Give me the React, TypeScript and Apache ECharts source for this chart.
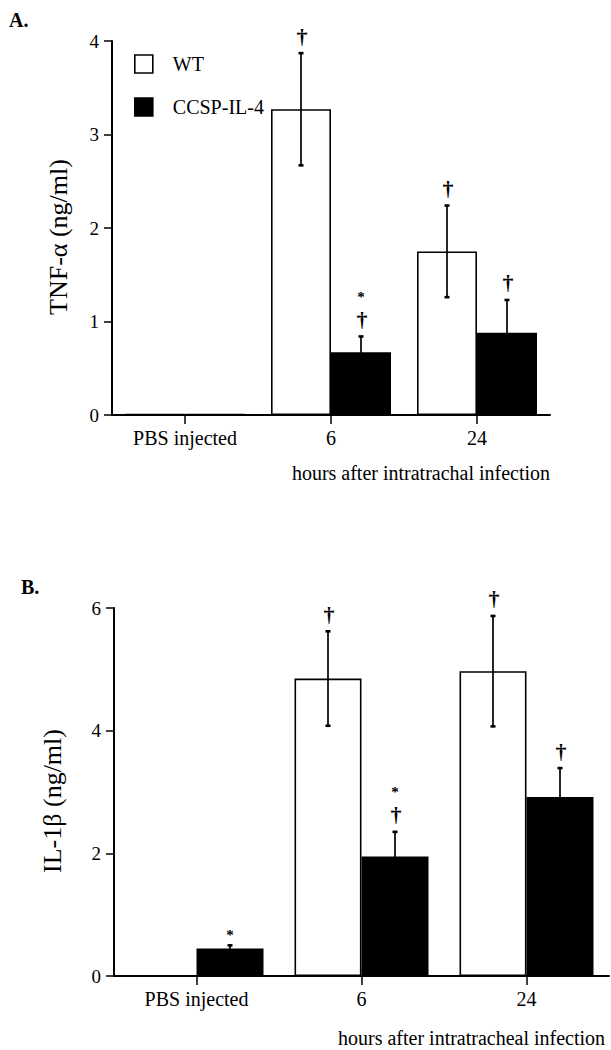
import React, { useEffect, useRef } from "react";
import * as echarts from "echarts";

const categories = ["PBS injected", "6", "24"];

// Panel A: TNF-α (ng/ml)
const tnfWT = [0.01, 3.27, 1.75];
const tnfWTErr = [0, 0.6, 0.49];
const tnfCCSP = [0.01, 0.67, 0.88];
const tnfCCSPErr = [0, 0.17, 0.35];
const tnfWTMarks = ["", "†", "†"];
const tnfCCSPMarks = ["", "*†", "†"];

// Panel B: IL-1β (ng/ml)
const il1WT = [0.01, 4.85, 4.97];
const il1WTErr = [0, 0.77, 0.9];
const il1CCSP = [0.45, 1.95, 2.92];
const il1CCSPErr = [0.05, 0.4, 0.47];
const il1WTMarks = ["", "†", "†"];
const il1CCSPMarks = ["*", "*†", "†"];

const seriesNames = ["WT", "CCSP-IL-4"];

const FONT = '"Liberation Serif", "Times New Roman", serif';

function errorSeries(axisIndex: number, values: number[], errs: number[], marks: string[], offset: number) {
  return {
    type: "custom",
    xAxisIndex: axisIndex,
    yAxisIndex: axisIndex,
    silent: true,
    z: 10,
    data: values.map((v, i) => [i, v, v - errs[i], v + errs[i]]),
    renderItem: (params: any, api: any) => {
      const i = params.dataIndex;
      const cx = api.coord([api.value(0), 0])[0] + offset;
      const yHigh = api.coord([api.value(0), api.value(3)])[1];
      const yLow = api.coord([api.value(0), api.value(2)])[1];
      const children: any[] = [];
      if (errs[i] > 0) {
        const st = { stroke: "#000", lineWidth: 1.7 };
        const cap = { stroke: "#000", lineWidth: 2.6 };
        children.push({ type: "line", shape: { x1: cx, y1: yLow, x2: cx, y2: yHigh }, style: st });
        children.push({ type: "line", shape: { x1: cx - 2.5, y1: yHigh, x2: cx + 2.5, y2: yHigh }, style: cap });
        children.push({ type: "line", shape: { x1: cx - 2.5, y1: yLow, x2: cx + 2.5, y2: yLow }, style: cap });
      }
      const mark = marks[i];
      let top = yHigh;
      if (mark.includes("†")) {
        children.push({
          type: "text",
          x: cx + 1,
          y: top - 6,
          style: { text: "†", font: `bold 22px ${FONT}`, fill: "#000", align: "center", verticalAlign: "bottom" },
        });
        top = top - 6 - 23;
      }
      if (mark.includes("*")) {
        children.push({
          type: "text",
          x: cx,
          y: top - 3,
          style: { text: "*", font: `bold 15px ${FONT}`, fill: "#000", align: "center", verticalAlign: "bottom" },
        });
      }
      return { type: "group", children };
    },
  };
}

export default function App() {
  const ref = useRef<HTMLDivElement>(null);
  useEffect(() => {
    document.body.style.margin = "0";
    if (!ref.current) return;
    const chart = echarts.init(ref.current, null, { renderer: "svg" });
    const barWA = 60;
    const barWB = 67;
    const axisCommonX = (gridIndex: number) => ({
      type: "category",
      gridIndex,
      data: categories,
      axisLine: { show: true, lineStyle: { color: "#000", width: 2 } },
      axisTick: { show: true, alignWithLabel: true, length: 9, lineStyle: { color: "#000", width: 1.5 } },
      axisLabel: { color: "#000", fontSize: 20, fontFamily: FONT, margin: 13 },
      splitLine: { show: false },
    });
    const axisCommonY = (gridIndex: number, max: number, interval: number) => ({
      type: "value",
      gridIndex,
      min: 0,
      max,
      interval,
      axisLine: { show: true, lineStyle: { color: "#000", width: 2 } },
      axisTick: { show: true, length: 8, lineStyle: { color: "#000", width: 1.5 } },
      axisLabel: { color: "#000", fontSize: 19, fontFamily: FONT, margin: 13 },
      splitLine: { show: false },
    });
    const wtStyle = { color: "#fff", borderColor: "#000", borderWidth: 1.6 };
    const ccStyle = { color: "#000", borderColor: "#000", borderWidth: 1.6 };
    chart.setOption({
      animation: false,
      backgroundColor: "#fff",
      textStyle: { fontFamily: FONT },
      legend: {
        data: seriesNames,
        orient: "vertical",
        left: 134,
        top: 54,
        padding: 0,
        itemWidth: 18,
        itemHeight: 18,
        itemGap: 23,
        icon: "rect",
        itemStyle: { borderColor: "#000", borderWidth: 1.6 },
        textStyle: { color: "#000", fontSize: 20, fontFamily: FONT, padding: [0, 0, 0, 15] },
        selectedMode: false,
      },
      grid: [
        { left: 112, top: 41, width: 438, height: 374 },
        { left: 114, top: 608, width: 495, height: 368 },
      ],
      xAxis: [axisCommonX(0), axisCommonX(1)],
      yAxis: [axisCommonY(0, 4, 1), axisCommonY(1, 6, 2)],
      graphic: [
        { type: "text", left: 9, top: 10, style: { text: "A.", font: `bold 20px ${FONT}`, fill: "#000" } },
        { type: "text", left: 21, top: 577, style: { text: "B.", font: `bold 20px ${FONT}`, fill: "#000" } },
        {
          type: "text", x: 58, y: 237, rotation: Math.PI / 2,
          style: { text: "TNF-α (ng/ml)", font: `26px ${FONT}`, fill: "#000", align: "center", verticalAlign: "middle" },
        },
        {
          type: "text", x: 52, y: 801, rotation: Math.PI / 2,
          style: { text: "IL-1β (ng/ml)", font: `26px ${FONT}`, fill: "#000", align: "center", verticalAlign: "middle" },
        },
        {
          type: "text", x: 421, y: 473,
          style: { text: "hours after intratrachal infection", font: `20px ${FONT}`, fill: "#000", align: "center", verticalAlign: "middle" },
        },
        {
          type: "text", x: 338, y: 1038,
          style: { text: "hours after intratracheal infection", font: `20px ${FONT}`, fill: "#000", align: "left", verticalAlign: "middle" },
        },
      ],
      series: [
        { name: "WT", type: "bar", xAxisIndex: 0, yAxisIndex: 0, data: tnfWT, barWidth: barWA, barGap: "0%", itemStyle: wtStyle },
        { name: "CCSP-IL-4", type: "bar", xAxisIndex: 0, yAxisIndex: 0, data: tnfCCSP, barWidth: barWA, barGap: "0%", itemStyle: ccStyle },
        { name: "WT", type: "bar", xAxisIndex: 1, yAxisIndex: 1, data: il1WT, barWidth: barWB, barGap: "0%", itemStyle: wtStyle },
        { name: "CCSP-IL-4", type: "bar", xAxisIndex: 1, yAxisIndex: 1, data: il1CCSP, barWidth: barWB, barGap: "0%", itemStyle: ccStyle },
        errorSeries(0, tnfWT, tnfWTErr, tnfWTMarks, -barWA / 2),
        errorSeries(0, tnfCCSP, tnfCCSPErr, tnfCCSPMarks, barWA / 2),
        errorSeries(1, il1WT, il1WTErr, il1WTMarks, -barWB / 2),
        errorSeries(1, il1CCSP, il1CCSPErr, il1CCSPMarks, barWB / 2),
      ],
    });
    return () => chart.dispose();
  }, []);
  return <div ref={ref} style={{ width: 611, height: 1050 }} />;
}
